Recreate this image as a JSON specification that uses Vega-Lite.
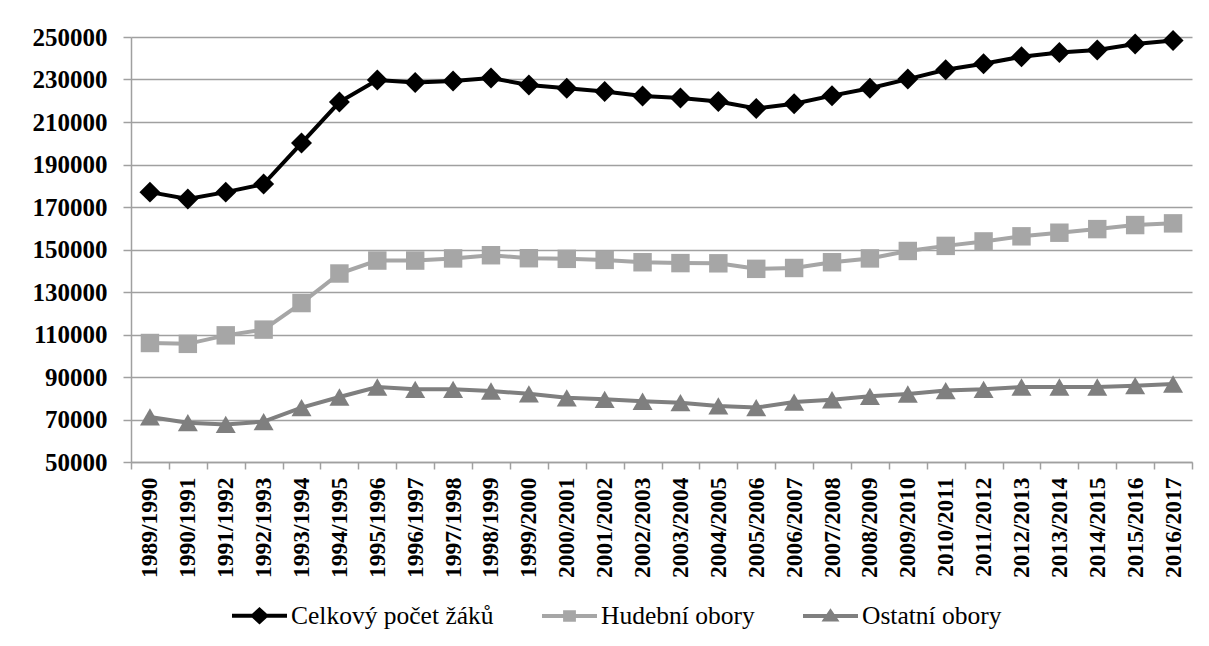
{
  "$schema": "https://vega.github.io/schema/vega-lite/v6.json",
  "width": 1061,
  "height": 425,
  "autosize": {"type": "none"},
  "padding": {"left": 131, "top": 37, "right": 17, "bottom": 184},
  "background": "white",
  "config": {"view": {"stroke": null}, "font": "Liberation Serif, Times New Roman, DejaVu Serif, serif"},
  "datasets": {
    "d": [
      {"rok": "1989/1990", "serie": "Celkový počet žáků", "pocet": 177000},
      {"rok": "1990/1991", "serie": "Celkový počet žáků", "pocet": 173800},
      {"rok": "1991/1992", "serie": "Celkový počet žáků", "pocet": 177000},
      {"rok": "1992/1993", "serie": "Celkový počet žáků", "pocet": 180800},
      {"rok": "1993/1994", "serie": "Celkový počet žáků", "pocet": 200100},
      {"rok": "1994/1995", "serie": "Celkový počet žáků", "pocet": 219400},
      {"rok": "1995/1996", "serie": "Celkový počet žáků", "pocet": 229800},
      {"rok": "1996/1997", "serie": "Celkový počet žáků", "pocet": 228600},
      {"rok": "1997/1998", "serie": "Celkový počet žáků", "pocet": 229300},
      {"rok": "1998/1999", "serie": "Celkový počet žáků", "pocet": 230700},
      {"rok": "1999/2000", "serie": "Celkový počet žáků", "pocet": 227400},
      {"rok": "2000/2001", "serie": "Celkový počet žáků", "pocet": 225900},
      {"rok": "2001/2002", "serie": "Celkový počet žáků", "pocet": 224300},
      {"rok": "2002/2003", "serie": "Celkový počet žáků", "pocet": 222200},
      {"rok": "2003/2004", "serie": "Celkový počet žáků", "pocet": 221300},
      {"rok": "2004/2005", "serie": "Celkový počet žáků", "pocet": 219600},
      {"rok": "2005/2006", "serie": "Celkový počet žáků", "pocet": 216400},
      {"rok": "2006/2007", "serie": "Celkový počet žáků", "pocet": 218600},
      {"rok": "2007/2008", "serie": "Celkový počet žáků", "pocet": 222400},
      {"rok": "2008/2009", "serie": "Celkový počet žáků", "pocet": 225900},
      {"rok": "2009/2010", "serie": "Celkový počet žáků", "pocet": 230200},
      {"rok": "2010/2011", "serie": "Celkový počet žáků", "pocet": 234600},
      {"rok": "2011/2012", "serie": "Celkový počet žáků", "pocet": 237400},
      {"rok": "2012/2013", "serie": "Celkový počet žáků", "pocet": 240700},
      {"rok": "2013/2014", "serie": "Celkový počet žáků", "pocet": 242700},
      {"rok": "2014/2015", "serie": "Celkový počet žáků", "pocet": 243900},
      {"rok": "2015/2016", "serie": "Celkový počet žáků", "pocet": 246700},
      {"rok": "2016/2017", "serie": "Celkový počet žáků", "pocet": 248300},
      {"rok": "1989/1990", "serie": "Hudební obory", "pocet": 106000},
      {"rok": "1990/1991", "serie": "Hudební obory", "pocet": 105600},
      {"rok": "1991/1992", "serie": "Hudební obory", "pocet": 109600},
      {"rok": "1992/1993", "serie": "Hudební obory", "pocet": 112300},
      {"rok": "1993/1994", "serie": "Hudební obory", "pocet": 124800},
      {"rok": "1994/1995", "serie": "Hudební obory", "pocet": 138700},
      {"rok": "1995/1996", "serie": "Hudební obory", "pocet": 144800},
      {"rok": "1996/1997", "serie": "Hudební obory", "pocet": 144800},
      {"rok": "1997/1998", "serie": "Hudební obory", "pocet": 145800},
      {"rok": "1998/1999", "serie": "Hudební obory", "pocet": 147300},
      {"rok": "1999/2000", "serie": "Hudební obory", "pocet": 145900},
      {"rok": "2000/2001", "serie": "Hudební obory", "pocet": 145600},
      {"rok": "2001/2002", "serie": "Hudební obory", "pocet": 145100},
      {"rok": "2002/2003", "serie": "Hudební obory", "pocet": 144000},
      {"rok": "2003/2004", "serie": "Hudební obory", "pocet": 143600},
      {"rok": "2004/2005", "serie": "Hudební obory", "pocet": 143500},
      {"rok": "2005/2006", "serie": "Hudební obory", "pocet": 140900},
      {"rok": "2006/2007", "serie": "Hudební obory", "pocet": 141300},
      {"rok": "2007/2008", "serie": "Hudební obory", "pocet": 144000},
      {"rok": "2008/2009", "serie": "Hudební obory", "pocet": 145800},
      {"rok": "2009/2010", "serie": "Hudební obory", "pocet": 149300},
      {"rok": "2010/2011", "serie": "Hudební obory", "pocet": 151700},
      {"rok": "2011/2012", "serie": "Hudební obory", "pocet": 153800},
      {"rok": "2012/2013", "serie": "Hudební obory", "pocet": 156200},
      {"rok": "2013/2014", "serie": "Hudební obory", "pocet": 157900},
      {"rok": "2014/2015", "serie": "Hudební obory", "pocet": 159600},
      {"rok": "2015/2016", "serie": "Hudební obory", "pocet": 161500},
      {"rok": "2016/2017", "serie": "Hudební obory", "pocet": 162300},
      {"rok": "1989/1990", "serie": "Ostatní obory", "pocet": 71200},
      {"rok": "1990/1991", "serie": "Ostatní obory", "pocet": 68500},
      {"rok": "1991/1992", "serie": "Ostatní obory", "pocet": 67700},
      {"rok": "1992/1993", "serie": "Ostatní obory", "pocet": 69000},
      {"rok": "1993/1994", "serie": "Ostatní obory", "pocet": 75600},
      {"rok": "1994/1995", "serie": "Ostatní obory", "pocet": 80600},
      {"rok": "1995/1996", "serie": "Ostatní obory", "pocet": 85300},
      {"rok": "1996/1997", "serie": "Ostatní obory", "pocet": 84200},
      {"rok": "1997/1998", "serie": "Ostatní obory", "pocet": 84200},
      {"rok": "1998/1999", "serie": "Ostatní obory", "pocet": 83400},
      {"rok": "1999/2000", "serie": "Ostatní obory", "pocet": 82100},
      {"rok": "2000/2001", "serie": "Ostatní obory", "pocet": 80200},
      {"rok": "2001/2002", "serie": "Ostatní obory", "pocet": 79500},
      {"rok": "2002/2003", "serie": "Ostatní obory", "pocet": 78600},
      {"rok": "2003/2004", "serie": "Ostatní obory", "pocet": 77900},
      {"rok": "2004/2005", "serie": "Ostatní obory", "pocet": 76400},
      {"rok": "2005/2006", "serie": "Ostatní obory", "pocet": 75600},
      {"rok": "2006/2007", "serie": "Ostatní obory", "pocet": 78200},
      {"rok": "2007/2008", "serie": "Ostatní obory", "pocet": 79300},
      {"rok": "2008/2009", "serie": "Ostatní obory", "pocet": 80900},
      {"rok": "2009/2010", "serie": "Ostatní obory", "pocet": 82000},
      {"rok": "2010/2011", "serie": "Ostatní obory", "pocet": 83600},
      {"rok": "2011/2012", "serie": "Ostatní obory", "pocet": 84200},
      {"rok": "2012/2013", "serie": "Ostatní obory", "pocet": 85300},
      {"rok": "2013/2014", "serie": "Ostatní obory", "pocet": 85300},
      {"rok": "2014/2015", "serie": "Ostatní obory", "pocet": 85300},
      {"rok": "2015/2016", "serie": "Ostatní obory", "pocet": 85900},
      {"rok": "2016/2017", "serie": "Ostatní obory", "pocet": 86700}
    ]
  },
  "data": {"name": "d"},
  "encoding": {
    "x": {
      "field": "rok",
      "type": "ordinal",
      "sort": null,
      "bandPosition": 0.5,
      "scale": {"type": "band", "paddingInner": 0, "paddingOuter": 0},
      "axis": {
        "title": null,
        "labelAngle": -90,
        "labelFont": "Liberation Serif, Times New Roman, DejaVu Serif, serif",
        "labelFontWeight": "bold",
        "labelFontSize": 23.5,
        "labelColor": "black",
        "labelPadding": 8,
        "tickBand": "extent",
        "tickSize": 7,
        "tickWidth": 1.5,
        "tickColor": "#a0a0a0",
        "domainColor": "#a0a0a0",
        "domainWidth": 1.5,
        "grid": false
      }
    },
    "y": {
      "field": "pocet",
      "type": "quantitative",
      "scale": {"domain": [50000, 250000], "nice": false, "zero": false},
      "axis": {
        "title": null,
        "values": [50000, 70000, 90000, 110000, 130000, 150000, 170000, 190000, 210000, 230000, 250000],
        "format": "d",
        "labelFont": "Liberation Serif, Times New Roman, DejaVu Serif, serif",
        "labelFontWeight": "bold",
        "labelFontSize": 25,
        "labelColor": "black",
        "labelPadding": 16,
        "tickSize": 8,
        "tickWidth": 1.5,
        "tickColor": "#a0a0a0",
        "domainColor": "#a0a0a0",
        "domainWidth": 1.5,
        "grid": true,
        "gridColor": "#a0a0a0",
        "gridWidth": 1.3
      }
    },
    "color": {
      "field": "serie",
      "type": "nominal",
      "scale": {
        "domain": ["Celkový počet žáků", "Hudební obory", "Ostatní obory"],
        "range": ["#000000", "#a6a6a6", "#7f7f7f"]
      },
      "legend": {
        "orient": "none",
        "legendX": 99,
        "legendY": 549,
        "direction": "horizontal",
        "title": null,
        "symbolSize": 3025,
        "symbolStrokeWidth": 4,
        "labelFont": "Liberation Serif, Times New Roman, DejaVu Serif, serif",
        "labelFontSize": 25.5,
        "labelColor": "black",
        "labelLimit": 500,
        "labelOffset": 2,
        "columnPadding": 40,
        "encode": {
          "symbols": {
            "update": {
              "shape": {"signal": "datum.value === 'Celkový počet žáků' ? 'M-1,0L1,0M-0.24,0L0,-0.22L0.24,0L0,0.22Z' : datum.value === 'Hudební obory' ? 'M-1,0L1,0M-0.16,-0.14L0.16,-0.14L0.16,0.14L-0.16,0.14Z' : 'M-1,0L1,0M0,-0.15L0.19,0.13L-0.19,0.13Z'"},
              "fill": {"scale": "color", "field": "value"},
              "stroke": {"scale": "color", "field": "value"},
              "opacity": {"value": 1},
              "strokeWidth": {"value": 4}
            }
          }
        }
      }
    }
  },
  "layer": [
    {"mark": {"type": "line", "strokeWidth": 4}},
    {
      "transform": [{"filter": "datum.serie === 'Celkový počet žáků'"}],
      "mark": {"type": "point", "filled": true, "opacity": 1, "shape": "diamond", "size": 440}
    },
    {
      "transform": [{"filter": "datum.serie === 'Hudební obory'"}],
      "mark": {"type": "point", "filled": true, "opacity": 1, "shape": "square", "size": 340}
    },
    {
      "transform": [{"filter": "datum.serie === 'Ostatní obory'"}],
      "mark": {"type": "point", "filled": true, "opacity": 1, "shape": "triangle-up", "size": 400}
    }
  ]
}
